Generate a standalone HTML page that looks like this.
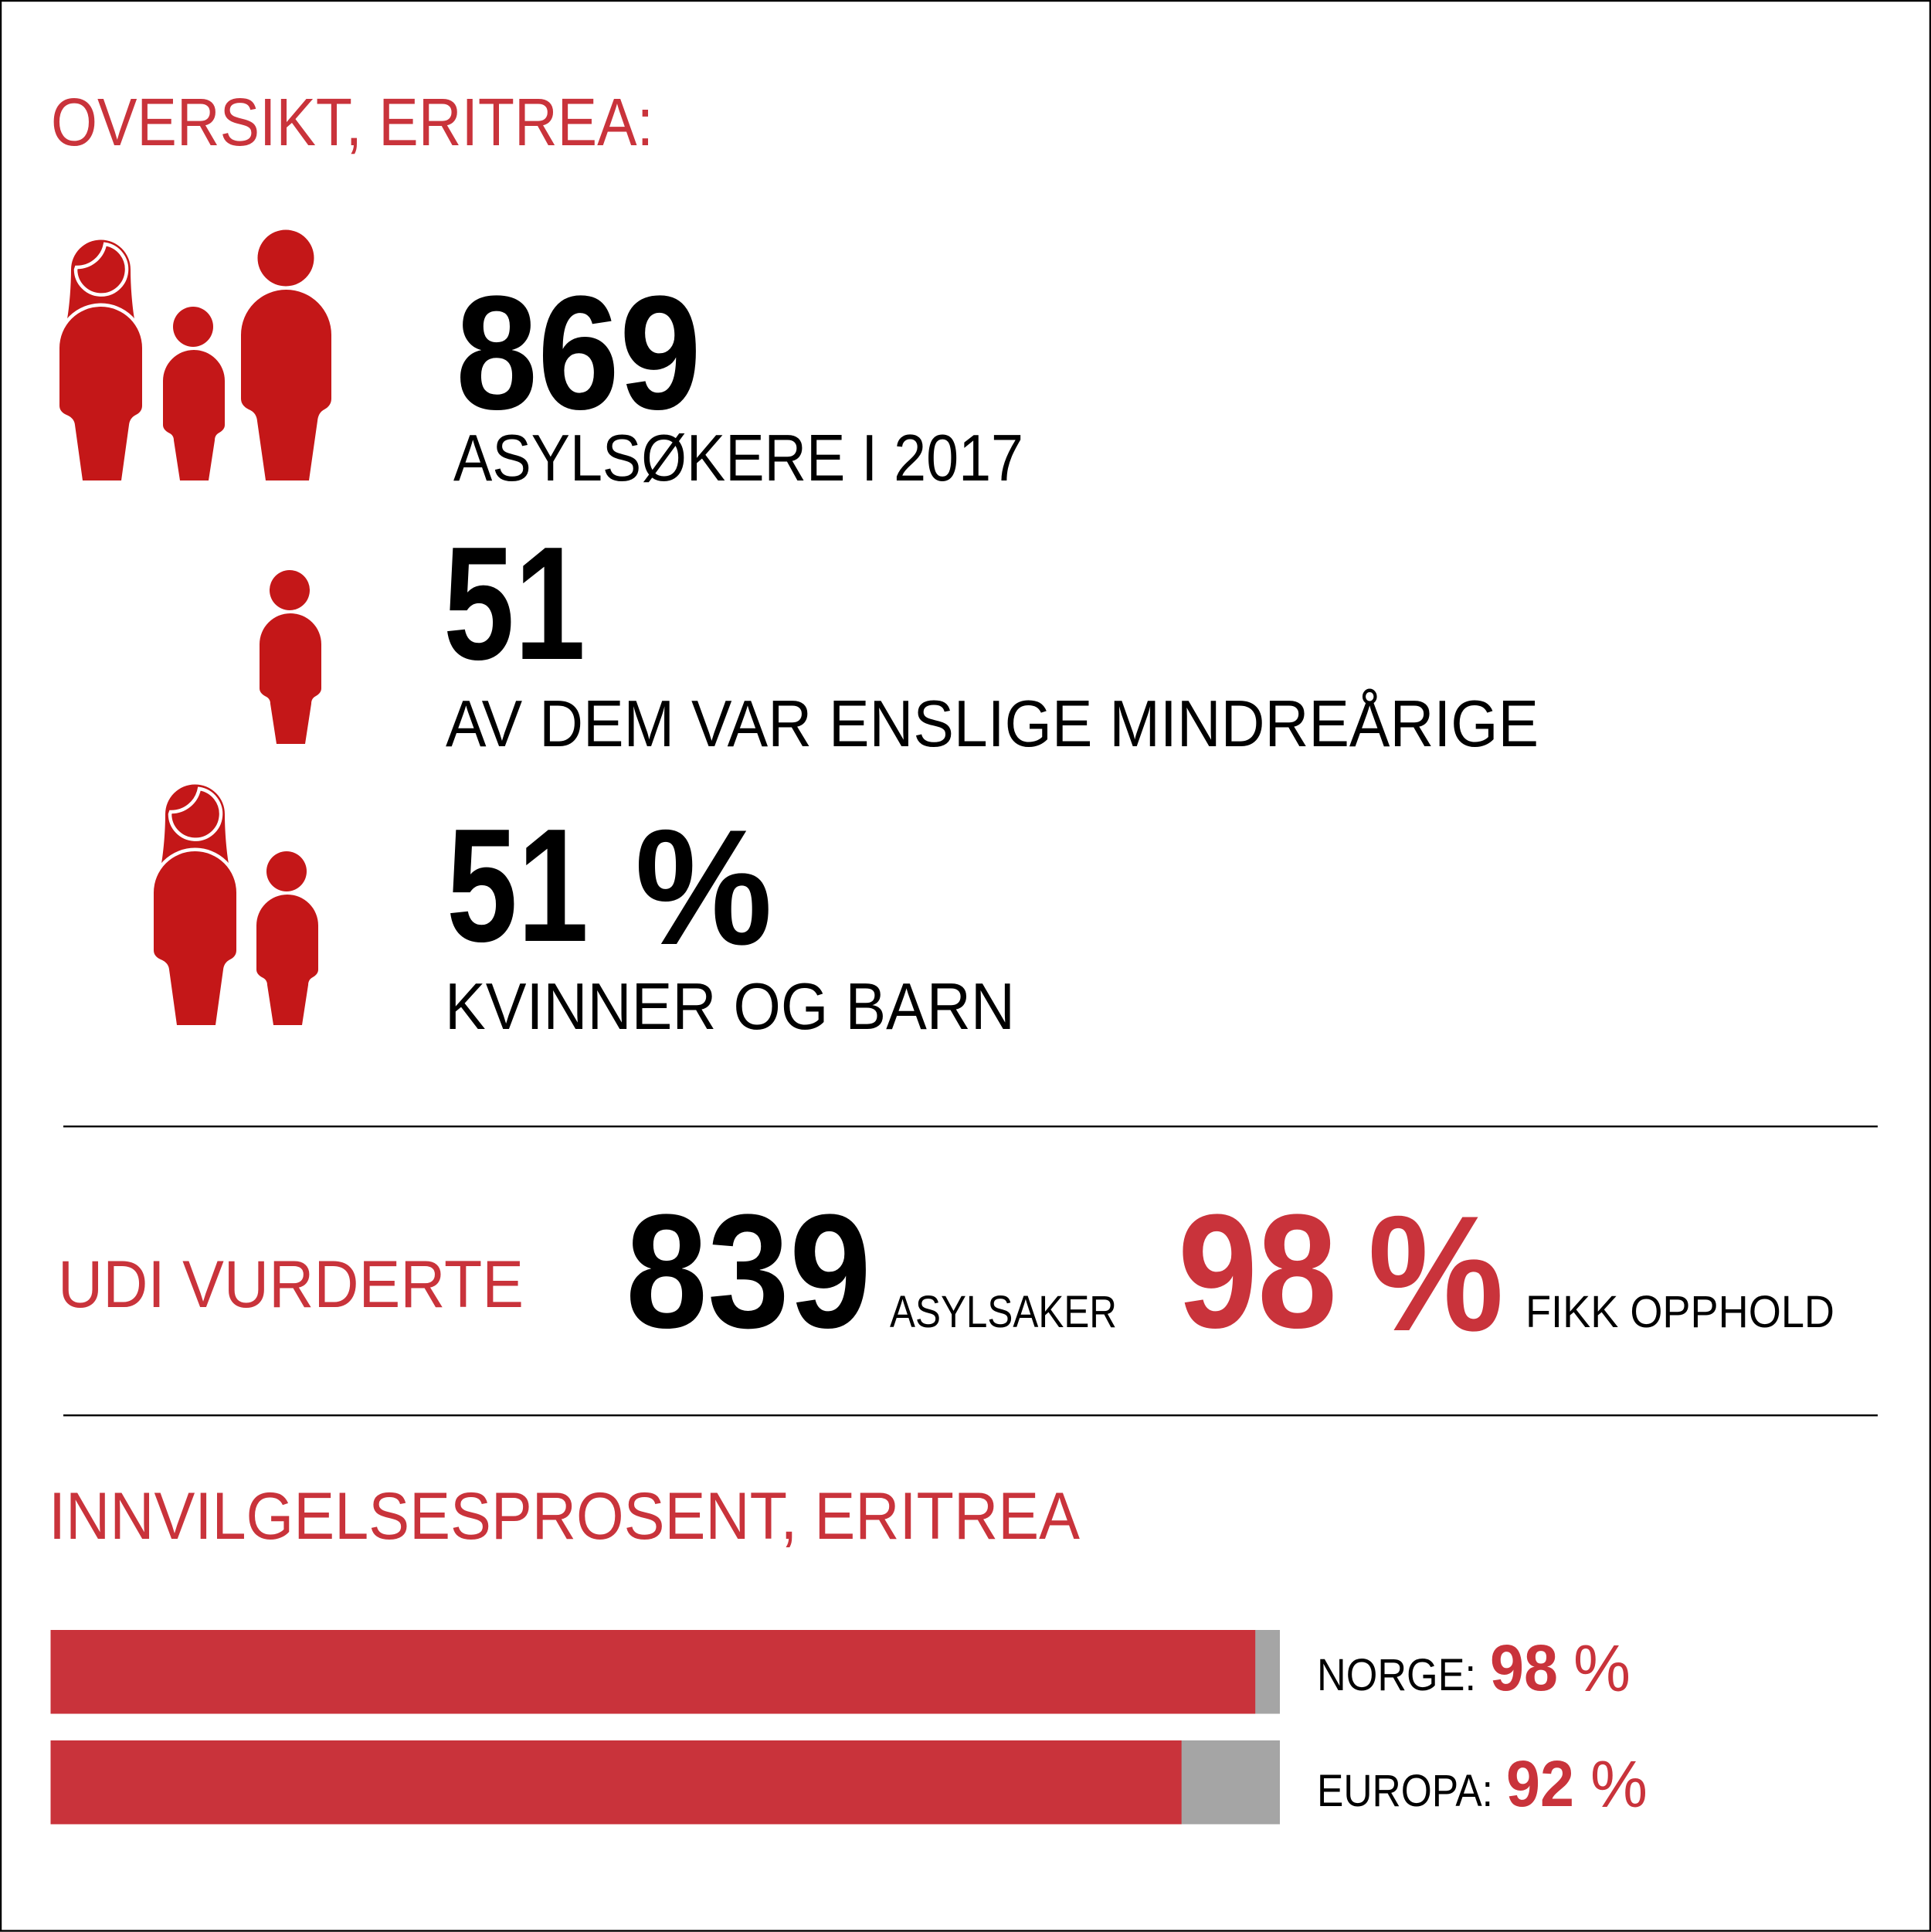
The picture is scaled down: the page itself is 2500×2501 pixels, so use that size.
<!DOCTYPE html>
<html lang="no">
<head>
<meta charset="utf-8">
<title>Oversikt, Eritrea</title>
<style>
html,body{margin:0;padding:0;background:#fff;}
svg{display:block;}
text{font-family:"Liberation Sans",sans-serif;}
.red{fill:#c9333b;}
.blk{fill:#000;}
.b{font-weight:700;}
.ic{fill:#c41718;}
</style>
</head>
<body>
<svg xmlns="http://www.w3.org/2000/svg" width="2500" height="2501" viewBox="0 0 2500 2501">
  <rect x="0" y="0" width="2500" height="2501" fill="#fff"/>
  <rect x="1" y="1" width="2498" height="2498.5" fill="none" stroke="#000" stroke-width="2.4"/>

  <text class="red" x="66" y="188" font-size="87" textLength="780" lengthAdjust="spacingAndGlyphs">OVERSIKT, ERITREA:</text>

  <!-- family icon row 1 -->
  <g class="ic">
    <g>
      <path d="M87 413C90 395 92 370 92 349A38.5 38.5 0 0 1 169 349C169 370 171 395 174 413Z"/>
      <path d="M99 346A37 37 0 0 0 136 316A33 33 0 1 1 98 349Z" fill="none" stroke="#fff" stroke-width="4.5"/>
      <path d="M77 450.5A53.5 53.5 0 0 1 184 450.5L184 525Q184 533 176 537Q168 541 167 550L157 622L107 622L97 550Q96 541 86 537Q77 533 77 525Z" stroke="#fff" stroke-width="9" paint-order="stroke"/>
    </g>
    <g>
      <circle cx="250" cy="423" r="26"/>
      <path d="M211 493A40 40 0 0 1 291 493L291 550Q291 556 284 560Q278 563 278 570L270 622L233 622L225 570Q225 563 218 560Q211 556 211 550Z"/>
    </g>
    <g>
      <circle cx="370" cy="334" r="36.5"/>
      <path d="M312 433.500A58.500 58.500 0 0 1 429 433.500L429 516Q429 525 420 530Q412 534 411 545L400 622L344 622L333 545Q332 534 322 530Q312 525 312 516Z"/>
    </g>
  </g>
  <text class="blk b" x="590" y="529" font-size="210" textLength="318" lengthAdjust="spacingAndGlyphs">869</text>
  <text class="blk" x="587" y="622" font-size="85" textLength="738" lengthAdjust="spacingAndGlyphs">ASYLSØKERE I 2017</text>

  <!-- child icon row 2 -->
  <g class="ic" transform="translate(125 341)">
    <circle cx="250" cy="423" r="26"/>
    <path d="M211 493A40 40 0 0 1 291 493L291 550Q291 556 284 560Q278 563 278 570L270 622L233 622L225 570Q225 563 218 560Q211 556 211 550Z"/>
  </g>
  <text class="blk b" x="574" y="853" font-size="209" textLength="184" lengthAdjust="spacingAndGlyphs">51</text>
  <text class="blk" x="577" y="966" font-size="85" textLength="1415" lengthAdjust="spacingAndGlyphs">AV DEM VAR ENSLIGE MINDREÅRIGE</text>

  <!-- woman + child icon row 3 -->
  <g class="ic" transform="translate(122 705)">
    <path d="M87 413C90 395 92 370 92 349A38.5 38.5 0 0 1 169 349C169 370 171 395 174 413Z"/>
    <path d="M99 346A37 37 0 0 0 136 316A33 33 0 1 1 98 349Z" fill="none" stroke="#fff" stroke-width="4.5"/>
    <path d="M77 450.5A53.5 53.5 0 0 1 184 450.5L184 525Q184 533 176 537Q168 541 167 550L157 622L107 622L97 550Q96 541 86 537Q77 533 77 525Z" stroke="#fff" stroke-width="9" paint-order="stroke"/>
  </g>
  <g class="ic" transform="translate(121 705)">
    <circle cx="250" cy="423" r="26"/>
    <path d="M211 493A40 40 0 0 1 291 493L291 550Q291 556 284 560Q278 563 278 570L270 622L233 622L225 570Q225 563 218 560Q211 556 211 550Z"/>
  </g>
  <text class="blk b" x="578" y="1218" font-size="209" textLength="184" lengthAdjust="spacingAndGlyphs">51</text>
  <text class="blk b" x="822" y="1222" font-size="213" textLength="178" lengthAdjust="spacingAndGlyphs">%</text>
  <text class="blk" x="576" y="1332" font-size="85" textLength="738" lengthAdjust="spacingAndGlyphs">KVINNER OG BARN</text>

  <rect x="82" y="1457" width="2349" height="2.4" fill="#000"/>

  <text class="red" x="75" y="1692" font-size="86" textLength="603" lengthAdjust="spacingAndGlyphs">UDI VURDERTE</text>
  <text class="blk b" x="810" y="1718" font-size="210" textLength="318" lengthAdjust="spacingAndGlyphs">839</text>
  <text class="blk" x="1152" y="1718" font-size="58" textLength="294" lengthAdjust="spacingAndGlyphs">ASYLSAKER</text>
  <text class="red b" x="1525" y="1718" font-size="210" textLength="206" lengthAdjust="spacingAndGlyphs">98</text>
  <text class="red b" x="1771" y="1722" font-size="213" textLength="176" lengthAdjust="spacingAndGlyphs">%</text>
  <text class="blk" x="1975" y="1718" font-size="58" textLength="400" lengthAdjust="spacingAndGlyphs">FIKK OPPHOLD</text>

  <rect x="82" y="1831" width="2349" height="2.4" fill="#000"/>

  <text class="red" x="63" y="1992" font-size="86" textLength="1335" lengthAdjust="spacingAndGlyphs">INNVILGELSESPROSENT, ERITREA</text>

  <g id="bar-chart"></g>
</svg>
<script>
const regions = ['NORGE:', 'EUROPA:'];
const approvalRates = [98, 92];

const NS = 'http://www.w3.org/2000/svg';
const chart = document.getElementById('bar-chart');
const scaleMax = 100;
const plotLeft = 65.5, plotWidth = 1591.5, rowTop = 2110, rowStep = 143, rowHeight = 108.5;
const labelTop = 2188, labelStep = 150;
const rowLabelLayout = { nameX: 1705, nameWidth: [206, 228], numberX: [1929, 1950], percentX: [2037, 2059] };

function xScale(v) { return plotLeft + (v / scaleMax) * plotWidth; }
function yScale(i) { return rowTop + i * rowStep; }

function makeText(str, x, y, size, fill, bold, len) {
  const t = document.createElementNS(NS, 'text');
  t.textContent = str;
  t.setAttribute('x', x);
  t.setAttribute('y', y);
  t.setAttribute('font-size', size);
  t.setAttribute('fill', fill);
  if (bold) t.setAttribute('font-weight', '700');
  t.setAttribute('textLength', len);
  t.setAttribute('lengthAdjust', 'spacingAndGlyphs');
  return t;
}

regions.forEach(function (name, i) {
  const y = yScale(i);
  const track = document.createElementNS(NS, 'rect');
  track.setAttribute('x', xScale(0));
  track.setAttribute('y', y);
  track.setAttribute('width', xScale(scaleMax) - xScale(0));
  track.setAttribute('height', rowHeight);
  track.setAttribute('fill', '#a5a5a5');
  
  
  chart.appendChild(track);

  const bar = document.createElementNS(NS, 'rect');
  bar.setAttribute('x', xScale(0));
  bar.setAttribute('y', y);
  bar.setAttribute('width', xScale(approvalRates[i]) - xScale(0));
  bar.setAttribute('height', rowHeight);
  bar.setAttribute('fill', '#c9333b');
  
  
  chart.appendChild(bar);

  const base = labelTop + i * labelStep;
  const nameLabel = makeText(name, rowLabelLayout.nameX, base, 58, '#000', false, rowLabelLayout.nameWidth[i]);
  
  
  chart.appendChild(nameLabel);

  const numLabel = makeText(String(approvalRates[i]), rowLabelLayout.numberX[i], base, 84, '#c9333b', true, 88);
  
  
  chart.appendChild(numLabel);

  const pct = makeText('%', rowLabelLayout.percentX[i], base + 1, 85, '#c9333b', false, 74);
  
  
  chart.appendChild(pct);
});
</script>
</body>
</html>
